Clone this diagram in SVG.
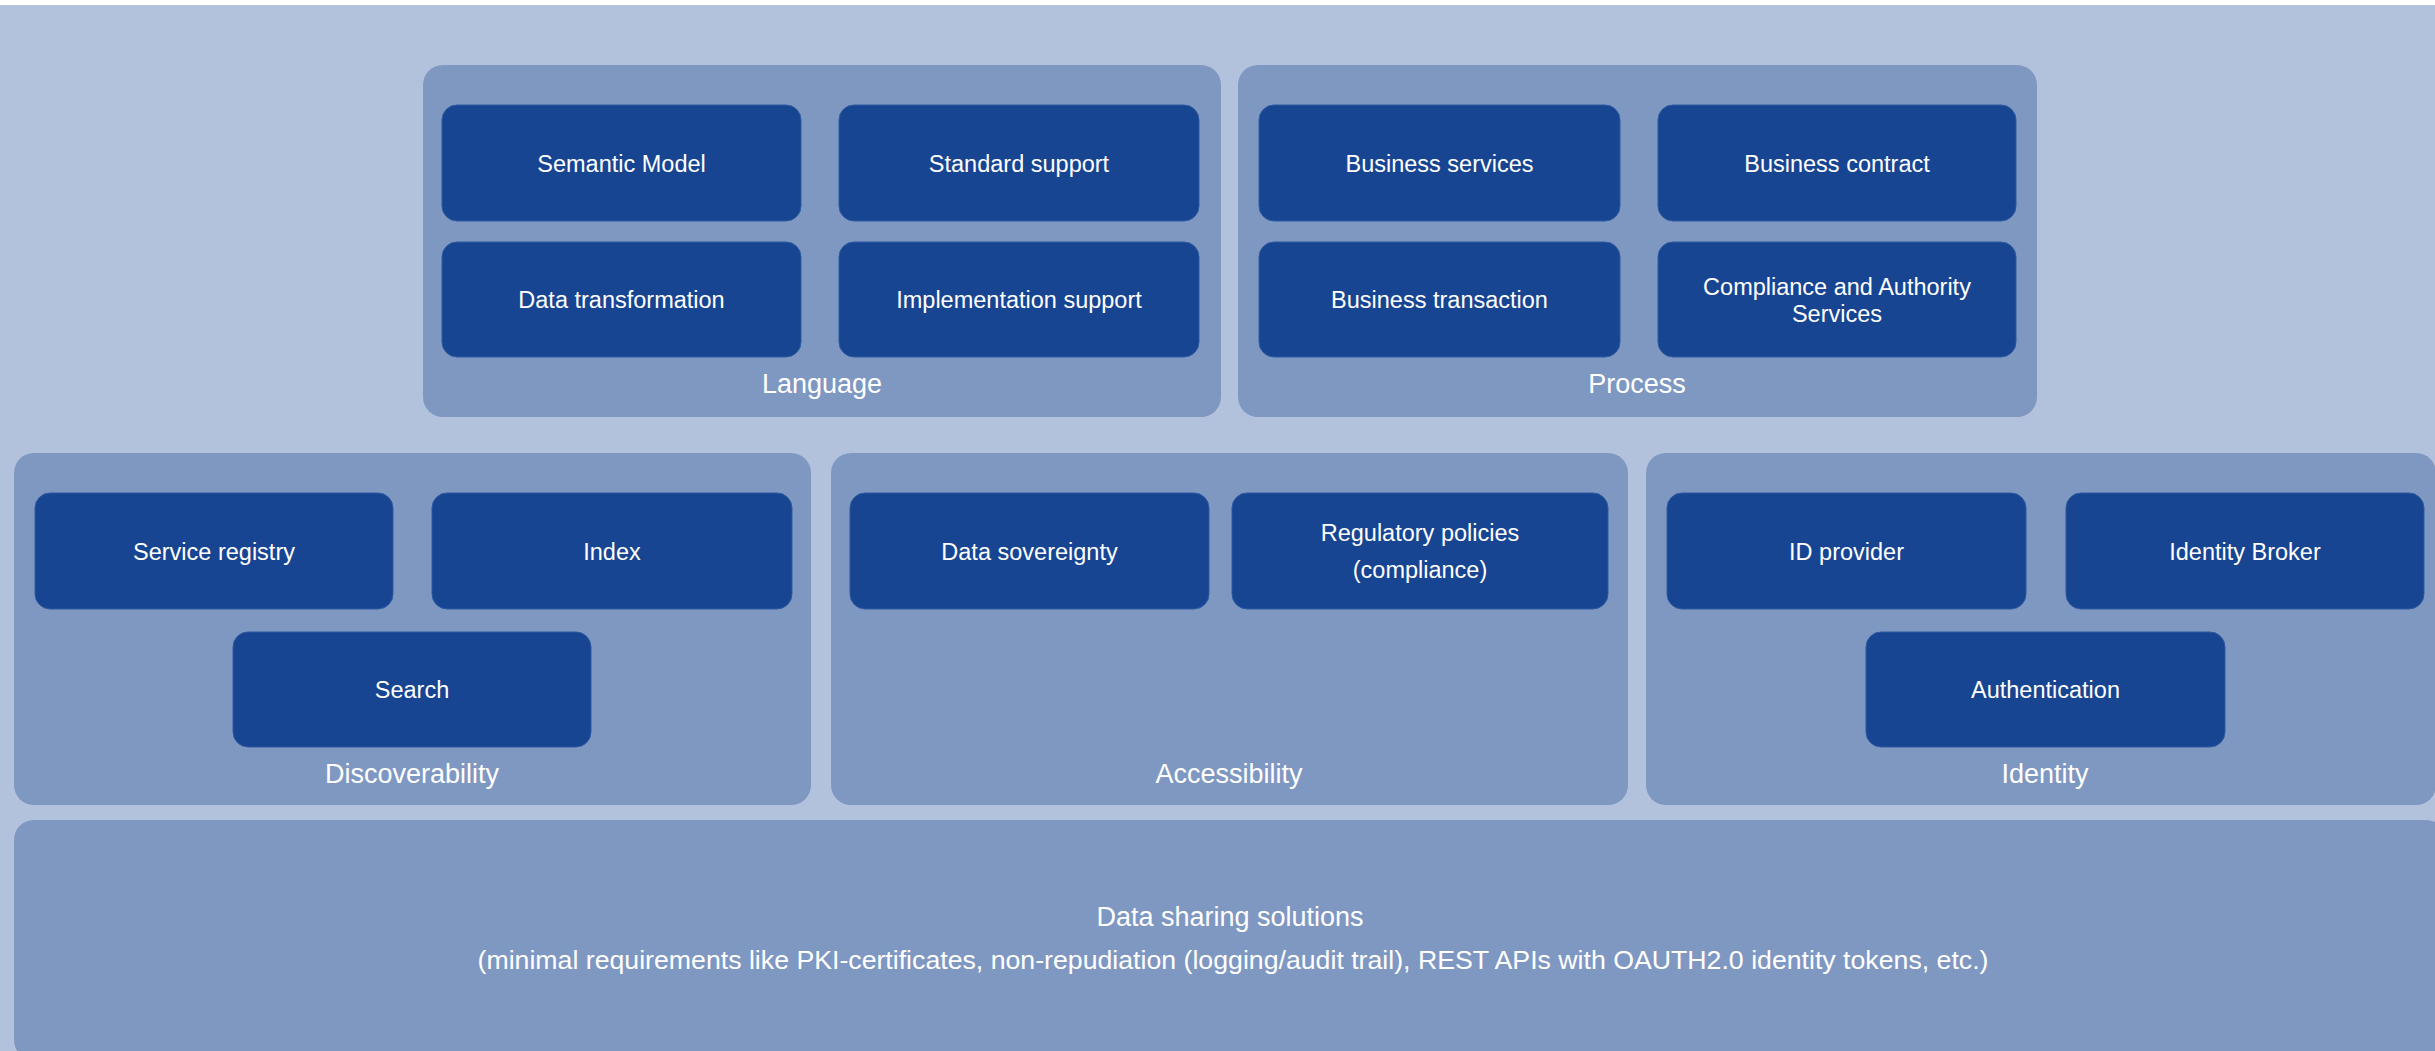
<svg xmlns="http://www.w3.org/2000/svg" width="2435" height="1051" viewBox="0 0 2435 1051">
<style>
.bg{fill:#b3c2dc}
.grp{fill:#7f98c2}
.box{fill:#174592;stroke:#2e5aa0;stroke-width:1}
text{font-family:"Liberation Sans",Arial,sans-serif;fill:#ffffff;text-anchor:middle}
.t{font-size:23.5px}
.g{font-size:27px}
.s{font-size:26.7px}
</style>
<rect x="0" y="0" width="2435" height="1051" fill="#ffffff"/>
<rect class="bg" x="0" y="5" width="2435" height="1046"/>

<g id="language">
<rect class="grp" x="423" y="65" width="798" height="352" rx="20"/>
<text class="g" x="822" y="393">Language</text>
</g>
<g id="semantic-model"><rect class="box" x="442" y="105" width="359" height="116" rx="15"/><text class="t" x="621.5" y="172">Semantic Model</text></g>
<g id="standard-support"><rect class="box" x="839" y="105" width="360" height="116" rx="15"/><text class="t" x="1019" y="172">Standard support</text></g>
<g id="data-transformation"><rect class="box" x="442" y="242" width="359" height="115" rx="15"/><text class="t" x="621.5" y="308">Data transformation</text></g>
<g id="implementation-support"><rect class="box" x="839" y="242" width="360" height="115" rx="15"/><text class="t" x="1019" y="308">Implementation support</text></g>

<g id="process">
<rect class="grp" x="1238" y="65" width="799" height="352" rx="20"/>
<text class="g" x="1637" y="393">Process</text>
</g>
<g id="business-services"><rect class="box" x="1259" y="105" width="361" height="116" rx="15"/><text class="t" x="1439.5" y="172">Business services</text></g>
<g id="business-contract"><rect class="box" x="1658" y="105" width="358" height="116" rx="15"/><text class="t" x="1837" y="172">Business contract</text></g>
<g id="business-transaction"><rect class="box" x="1259" y="242" width="361" height="115" rx="15"/><text class="t" x="1439.5" y="308">Business transaction</text></g>
<g id="compliance-authority"><rect class="box" x="1658" y="242" width="358" height="115" rx="15"/><text class="t" x="1837" y="295">Compliance and Authority</text><text class="t" x="1837" y="322">Services</text></g>

<g id="discoverability">
<rect class="grp" x="14" y="453" width="797" height="352" rx="20"/>
<text class="g" x="412" y="783">Discoverability</text>
</g>
<g id="service-registry"><rect class="box" x="35" y="493" width="358" height="116" rx="15"/><text class="t" x="214" y="560">Service registry</text></g>
<g id="index"><rect class="box" x="432" y="493" width="360" height="116" rx="15"/><text class="t" x="612" y="560">Index</text></g>
<g id="search"><rect class="box" x="233" y="632" width="358" height="115" rx="15"/><text class="t" x="412" y="698">Search</text></g>

<g id="accessibility">
<rect class="grp" x="831" y="453" width="797" height="352" rx="20"/>
<text class="g" x="1229" y="783">Accessibility</text>
</g>
<g id="data-sovereignty"><rect class="box" x="850" y="493" width="359" height="116" rx="15"/><text class="t" x="1029.5" y="560">Data sovereignty</text></g>
<g id="regulatory-policies"><rect class="box" x="1232" y="493" width="376" height="116" rx="15"/><text class="t" x="1420" y="541">Regulatory policies</text><text class="t" x="1420" y="578">(compliance)</text></g>

<g id="identity">
<rect class="grp" x="1646" y="453" width="790" height="352" rx="20"/>
<text class="g" x="2045" y="783">Identity</text>
</g>
<g id="id-provider"><rect class="box" x="1667" y="493" width="359" height="116" rx="15"/><text class="t" x="1846.5" y="560">ID provider</text></g>
<g id="identity-broker"><rect class="box" x="2066" y="493" width="358" height="116" rx="15"/><text class="t" x="2245" y="560">Identity Broker</text></g>
<g id="authentication"><rect class="box" x="1866" y="632" width="359" height="115" rx="15"/><text class="t" x="2045.5" y="698">Authentication</text></g>

<g id="data-sharing">
<rect class="grp" x="14" y="820" width="2432" height="240" rx="20"/>
<text class="g" x="1230" y="926">Data sharing solutions</text>
<text class="s" x="1233" y="969">(minimal requirements like PKI-certificates, non-repudiation (logging/audit trail), REST APIs with OAUTH2.0 identity tokens, etc.)</text>
</g>

<g id="connectors"></g>
</svg>
